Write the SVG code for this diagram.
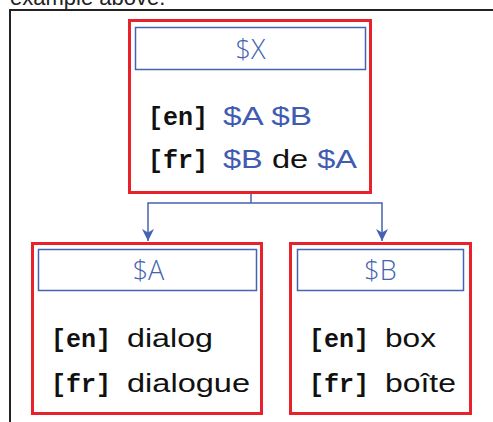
<svg xmlns="http://www.w3.org/2000/svg" width="493" height="422" viewBox="0 0 493 422">
  <style>
    .node { fill: #ffffff; stroke: #e8222b; stroke-width: 3; }
    .head { fill: #ffffff; stroke: #4563b0; stroke-width: 1.5; }
    .head-label { font-family: "Open Sans", "Liberation Sans", sans-serif; font-weight: 300; font-size: 27px; fill: #4563b0; text-anchor: middle; }
    .tag { font-family: "Liberation Mono", "DejaVu Sans Mono", monospace; font-weight: bold; font-size: 25px; fill: #111111; }
    .body { font-family: "Liberation Sans", Arial, sans-serif; font-size: 25px; fill: #111111; }
    .var { fill: #3f5cb0; }
    .link { fill: none; stroke: #4563b0; stroke-width: 1.5; }
    .caption { font-family: "Liberation Sans", Arial, sans-serif; font-size: 22px; fill: #222222; }
  </style>
  <defs>
    <!-- notched arrowhead, drawn pointing along +x -->
    <marker id="arrow" viewBox="0 0 14 14" refX="13" refY="7" markerWidth="14" markerHeight="14" markerUnits="userSpaceOnUse" orient="auto">
      <path d="M1,1 L4.5,7 L1,13 L13,7 Z" fill="#4563b0"/>
    </marker>
  </defs>

  <rect width="493" height="422" fill="#ffffff"/>

  <!-- caption line cut off at the top -->
  <text class="caption" x="10" y="4.5">example above.</text>

  <!-- surrounding frame -->
  <path d="M10,422 V10 H493" fill="none" stroke="#222222" stroke-width="2"/>

  <!-- connectors -->
  <g id="connectors">
    <path class="link" d="M251,193 V203"/>
    <path class="link" d="M251,203 H148 V241" marker-end="url(#arrow)"/>
    <path class="link" d="M251,203 H382 V241" marker-end="url(#arrow)"/>
  </g>

  <!-- $X -->
  <g id="node-x">
    <rect class="node" x="129.5" y="20.5" width="241" height="172"/>
    <rect class="head" x="135.5" y="27.5" width="230" height="42"/>
    <text class="head-label" x="250.5" y="59">$X</text>
    <text class="tag" x="148" y="125">[en]</text>
    <text class="body var" x="223" y="125" textLength="89" lengthAdjust="spacingAndGlyphs">$A $B</text>
    <text class="tag" x="148" y="168">[fr]</text>
    <text class="body" x="223" y="168" textLength="134" lengthAdjust="spacingAndGlyphs"><tspan class="var">$B</tspan> de <tspan class="var">$A</tspan></text>
  </g>

  <!-- $A -->
  <g id="node-a">
    <rect class="node" x="32.5" y="243.5" width="229" height="170"/>
    <rect class="head" x="38.5" y="249.5" width="218" height="41"/>
    <text class="head-label" x="148.5" y="280">$A</text>
    <text class="tag" x="51" y="347">[en]</text>
    <text class="body" x="127" y="347" textLength="86" lengthAdjust="spacingAndGlyphs">dialog</text>
    <text class="tag" x="51" y="392">[fr]</text>
    <text class="body" x="127" y="392" textLength="123" lengthAdjust="spacingAndGlyphs">dialogue</text>
  </g>

  <!-- $B -->
  <g id="node-b">
    <rect class="node" x="290.5" y="243.5" width="180" height="170"/>
    <rect class="head" x="297.5" y="249.5" width="166" height="41"/>
    <text class="head-label" x="380.5" y="280">$B</text>
    <text class="tag" x="309" y="347">[en]</text>
    <text class="body" x="385" y="347" textLength="51" lengthAdjust="spacingAndGlyphs">box</text>
    <text class="tag" x="309" y="392">[fr]</text>
    <text class="body" x="385" y="392" textLength="71" lengthAdjust="spacingAndGlyphs">boîte</text>
  </g>
</svg>
